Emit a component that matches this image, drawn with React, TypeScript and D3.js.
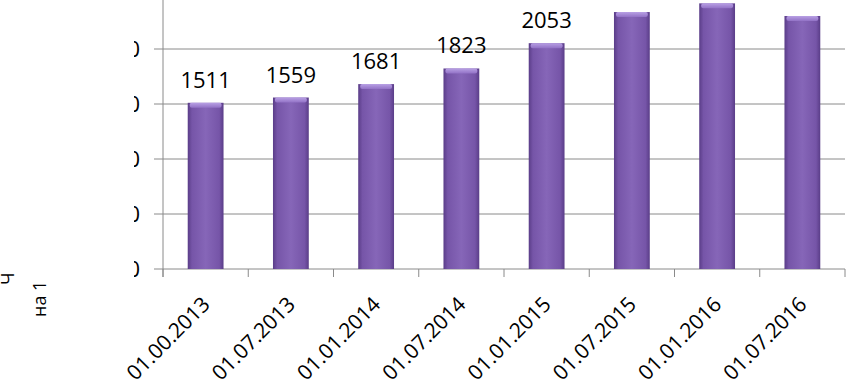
import { useRef, useEffect } from "react";
import * as d3 from "d3";

const categories = ["01.00.2013", "01.07.2013", "01.01.2014", "01.07.2014", "01.01.2015", "01.07.2015", "01.01.2016", "01.07.2016"];
const values = [1511, 1559, 1681, 1823, 2053, 2336, 2415, 2300];
const shownLabels = [true, true, true, true, true, false, false, false];
const yTicks = [0, 500, 1000, 1500, 2000];
const titleLines = ["Ч", "на 1"];

const W = 847;
const H = 381;
const font = "'Open Sans', 'Liberation Sans', sans-serif";

export default function App() {
  const ref = useRef<SVGSVGElement>(null);

  useEffect(() => {
    const svg = d3.select(ref.current);
    svg.selectAll("*").remove();

    const left = 163, right = 845, bottom = 269;
    const x = d3.scaleBand<string>().domain(categories).range([left, right]).paddingInner(0.58).paddingOuter(0.29);
    const y = d3.scaleLinear().domain([0, 2500]).range([bottom, bottom - 275]);

    const defs = svg.append("defs");
    const g = defs.append("linearGradient").attr("id", "barGrad").attr("x1", 0).attr("x2", 1).attr("y1", 0).attr("y2", 0);
    g.append("stop").attr("offset", "0%").attr("stop-color", "#5a3d88");
    g.append("stop").attr("offset", "12%").attr("stop-color", "#7655a8");
    g.append("stop").attr("offset", "50%").attr("stop-color", "#8666b8");
    g.append("stop").attr("offset", "88%").attr("stop-color", "#7655a8");
    g.append("stop").attr("offset", "100%").attr("stop-color", "#5a3d88");
    const cap = defs.append("linearGradient").attr("id", "capGrad").attr("x1", 0).attr("x2", 0).attr("y1", 0).attr("y2", 1);
    cap.append("stop").attr("offset", "0%").attr("stop-color", "#b8a0e4");
    cap.append("stop").attr("offset", "100%").attr("stop-color", "#9272c6");
    defs.append("clipPath").attr("id", "tickClip").append("rect").attr("x", 134).attr("y", 0).attr("width", 40).attr("height", H);
    defs.append("clipPath").attr("id", "titleClip").append("rect").attr("x", 0).attr("y", 271).attr("width", 60).attr("height", 60);

    // gridlines
    svg.append("g").selectAll("line").data(yTicks).join("line")
      .attr("x1", left - 9).attr("x2", right)
      .attr("y1", d => y(d)).attr("y2", d => y(d))
      .attr("stroke", "#8a8a8a").attr("stroke-width", 1);

    // y axis line
    svg.append("line").attr("x1", left).attr("x2", left).attr("y1", y(2500)).attr("y2", bottom + 8)
      .attr("stroke", "#8a8a8a");

    // x ticks at band boundaries
    const bounds = d3.range(categories.length + 1).map(i => left + i * x.step());
    svg.append("g").selectAll("line").data(bounds).join("line")
      .attr("x1", d => d).attr("x2", d => d).attr("y1", bottom).attr("y2", bottom + 8)
      .attr("stroke", "#8a8a8a");

    // y tick labels (clipped)
    svg.append("g").attr("clip-path", "url(#tickClip)").selectAll("text").data(yTicks).join("text")
      .attr("x", 140).attr("y", d => y(d)).attr("dy", "0.35em")
      .attr("text-anchor", "end").attr("font-family", font).attr("font-size", 22).attr("fill", "#000")
      .text(d => String(d));

    // bars
    const bw = x.bandwidth();
    const bars = svg.append("g").selectAll("g").data(values).join("g");
    bars.append("rect")
      .attr("x", (d, i) => x(categories[i])!).attr("y", d => y(d))
      .attr("width", bw).attr("height", d => bottom - y(d))
      .attr("fill", "url(#barGrad)");
    bars.append("rect")
      .attr("x", (d, i) => x(categories[i])! + 2).attr("y", d => y(d))
      .attr("width", bw - 4).attr("height", 5).attr("rx", 2)
      .attr("fill", "url(#capGrad)");

    // data labels
    svg.append("g").selectAll("text").data(values.filter((d, i) => shownLabels[i])).join("text")
      .attr("x", (d, i) => x(categories[i])! + bw / 2).attr("y", d => y(d) - 15)
      .attr("text-anchor", "middle").attr("font-family", font).attr("font-size", 22).attr("fill", "#000")
      .text(d => String(d));

    // x labels
    svg.append("g").selectAll("text").data(categories).join("text")
      .attr("transform", d => `translate(${x(d)! + bw / 2},300) rotate(-45)`)
      .attr("text-anchor", "end").attr("dominant-baseline", "central")
      .attr("font-family", font).attr("font-size", 21).attr("fill", "#000")
      .text(d => d);

    // axis title (mostly hidden)
    svg.append("g").attr("clip-path", "url(#titleClip)").selectAll("text").data(titleLines).join("text")
      .attr("transform", (d, i) => `translate(${14 + i * 32},${i === 0 ? 285 : 317}) rotate(-90)`)
      .attr("font-family", font).attr("font-size", 18).attr("fill", "#000")
      .text(d => d);
  }, []);

  return (
    <div>
      <svg ref={ref} width={W} height={H} style={{ position: "absolute", left: 0, top: 0, background: "#fff" }} />
    </div>
  );
}
